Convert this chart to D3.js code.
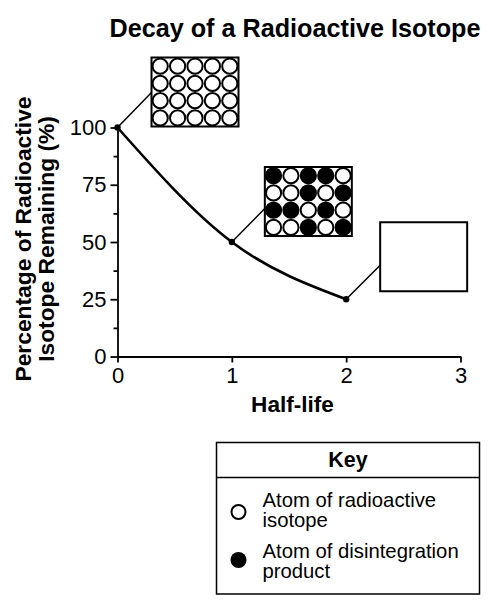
<!DOCTYPE html>
<html>
<head>
<meta charset="utf-8">
<script src="https://cdn.jsdelivr.net/npm/d3@7"></script>
<style>
  html, body { margin: 0; padding: 0; background: #fff; }
  svg { display: block; font-family: "Liberation Sans", Arial, Helvetica, sans-serif; }
</style>
</head>
<body>
<svg id="chart" width="490" height="610"></svg>
<script>
// ---- data ----
const halfLives = [0, 1, 2];
const percentRemaining = [100, 50, 25];
const xTickValues = [0, 1, 2, 3];
const yTickValues = [0, 25, 50, 75, 100];
const yMinorTickValues = [12.5, 37.5, 62.5, 87.5];
// 0 = atom of radioactive isotope (open), 1 = atom of disintegration product (filled)
const gridHalfLife0 = [
  [0, 0, 0, 0, 0],
  [0, 0, 0, 0, 0],
  [0, 0, 0, 0, 0],
  [0, 0, 0, 0, 0]
];
const gridHalfLife1 = [
  [1, 0, 1, 1, 0],
  [0, 0, 1, 0, 1],
  [1, 1, 0, 1, 0],
  [0, 0, 1, 0, 1]
];
const gridHalfLife2 = []; // left blank
const grids = [gridHalfLife0, gridHalfLife1, gridHalfLife2];
const titleText = "Decay of a Radioactive Isotope";
const yLabelLines = ["Percentage of Radioactive", "Isotope Remaining (%)"];
const xLabelText = "Half-life";
const keyTitle = "Key";
const keyItems = [
  { filled: false, lines: ["Atom of radioactive", "isotope"] },
  { filled: true, lines: ["Atom of disintegration", "product"] }
];

// ---- layout ----
const svg = d3.select("#chart");
const x = d3.scaleLinear().domain([0, 3]).range([117.5, 460.5]);
const y = d3.scaleLinear().domain([0, 100]).range([356.5, 127.5]);

// title
svg.append("text")
  .attr("x", 295).attr("y", 36.5)
  .attr("text-anchor", "middle")
  .attr("font-size", 25.2).attr("font-weight", "bold")
  .text(titleText);

// y label
const yl = svg.append("text")
  .attr("transform", "translate(31,239) rotate(-90)")
  .attr("text-anchor", "middle")
  .attr("font-size", 22.8).attr("font-weight", "bold");
yLabelLines.forEach((t, i) => {
  yl.append("tspan").attr("x", 0).attr("y", i * 23.3).text(t);
});

// axes
const yAxis = svg.append("g")
  .attr("transform", `translate(${x(0)},0)`)
  .call(d3.axisLeft(y).tickValues(yTickValues).tickSize(7).tickSizeOuter(0).tickPadding(4).tickFormat(d3.format("d")));
const yMinor = svg.append("g")
  .attr("transform", `translate(${x(0)},0)`)
  .call(d3.axisLeft(y).tickValues(yMinorTickValues).tickSize(4).tickSizeOuter(0).tickFormat(""));
yMinor.select(".domain").remove();
const xAxis = svg.append("g")
  .attr("transform", `translate(0,${y(0)})`)
  .call(d3.axisBottom(x).tickValues(xTickValues).tickSize(6).tickSizeOuter(0).tickPadding(5).tickFormat(d3.format("d")));

[yAxis, yMinor, xAxis].forEach(g => {
  g.selectAll("path, line").attr("stroke", "#000").attr("stroke-width", 1.8);
  g.selectAll("text").attr("font-size", 22).attr("fill", "#000")
    .attr("font-family", "'Liberation Sans', Arial, Helvetica, sans-serif");
});

// x label
svg.append("text")
  .attr("x", 292.5).attr("y", 411.5)
  .attr("text-anchor", "middle")
  .attr("font-size", 22.6).attr("font-weight", "bold")
  .text(xLabelText);

// curve
const pts = halfLives.map((h, i) => [h, percentRemaining[i]]);
svg.append("path")
  .datum(pts)
  .attr("fill", "none").attr("stroke", "#000").attr("stroke-width", 2.6)
  .attr("d", d3.line().x(d => x(d[0])).y(d => y(d[1])).curve(d3.curveMonotoneX));

// callout boxes
const boxW = 87, boxH = 69;
const boxOffsets = [
  { dx: 34, dy: -70, cy: 35 },
  { dx: 33, dy: -75, cy: 41.5 },
  { dx: 34, dy: -77, cy: 43 }
];
pts.forEach((p, i) => {
  const px = x(p[0]), py = y(p[1]);
  const o = boxOffsets[i];
  const bx = px + o.dx, by = py + o.dy;
  svg.append("line")
    .attr("x1", px).attr("y1", py).attr("x2", bx).attr("y2", by + o.cy)
    .attr("stroke", "#000").attr("stroke-width", 1.5);
  const g = svg.append("g").attr("transform", `translate(${bx},${by})`);
  g.append("rect").attr("width", boxW).attr("height", boxH)
    .attr("fill", "#fff").attr("stroke", "#000").attr("stroke-width", 2);
  const grid = grids[i];
  const cw = boxW / 5, ch = boxH / 4;
  grid.forEach((row, r) => {
    row.forEach((v, c) => {
      g.append("circle")
        .attr("cx", cw * c + cw / 2).attr("cy", ch * r + ch / 2)
        .attr("r", 7.6)
        .attr("fill", v ? "#000" : "#fff")
        .attr("stroke", "#000").attr("stroke-width", 2);
    });
  });
});

// data points
svg.selectAll("circle.pt").data(pts).enter().append("circle")
  .attr("class", "pt")
  .attr("cx", d => x(d[0])).attr("cy", d => y(d[1]))
  .attr("r", 3.2).attr("fill", "#000");

// key
const key = svg.append("g");
key.append("rect")
  .attr("x", 216.5).attr("y", 442.5).attr("width", 263).attr("height", 151.5)
  .attr("fill", "none").attr("stroke", "#000").attr("stroke-width", 1.5);
key.append("line")
  .attr("x1", 216.5).attr("x2", 479.5).attr("y1", 477.5).attr("y2", 477.5)
  .attr("stroke", "#000").attr("stroke-width", 1.5);
key.append("text")
  .attr("x", 348).attr("y", 466.5).attr("text-anchor", "middle")
  .attr("font-size", 21.5).attr("font-weight", "bold").text(keyTitle);
keyItems.forEach((it, i) => {
  const baseY = 507 + i * 51;
  key.append("circle")
    .attr("cx", 238.5).attr("cy", it.filled ? baseY + 2 : baseY + 5)
    .attr("r", it.filled ? 8 : 7)
    .attr("fill", it.filled ? "#000" : "#fff")
    .attr("stroke", "#000").attr("stroke-width", it.filled ? 0 : 2);
  it.lines.forEach((ln, j) => {
    key.append("text").attr("font-size", 20.3)
      .attr("x", 262.5).attr("y", baseY + j * 19.5).text(ln);
  });
});
</script>
</body>
</html>
